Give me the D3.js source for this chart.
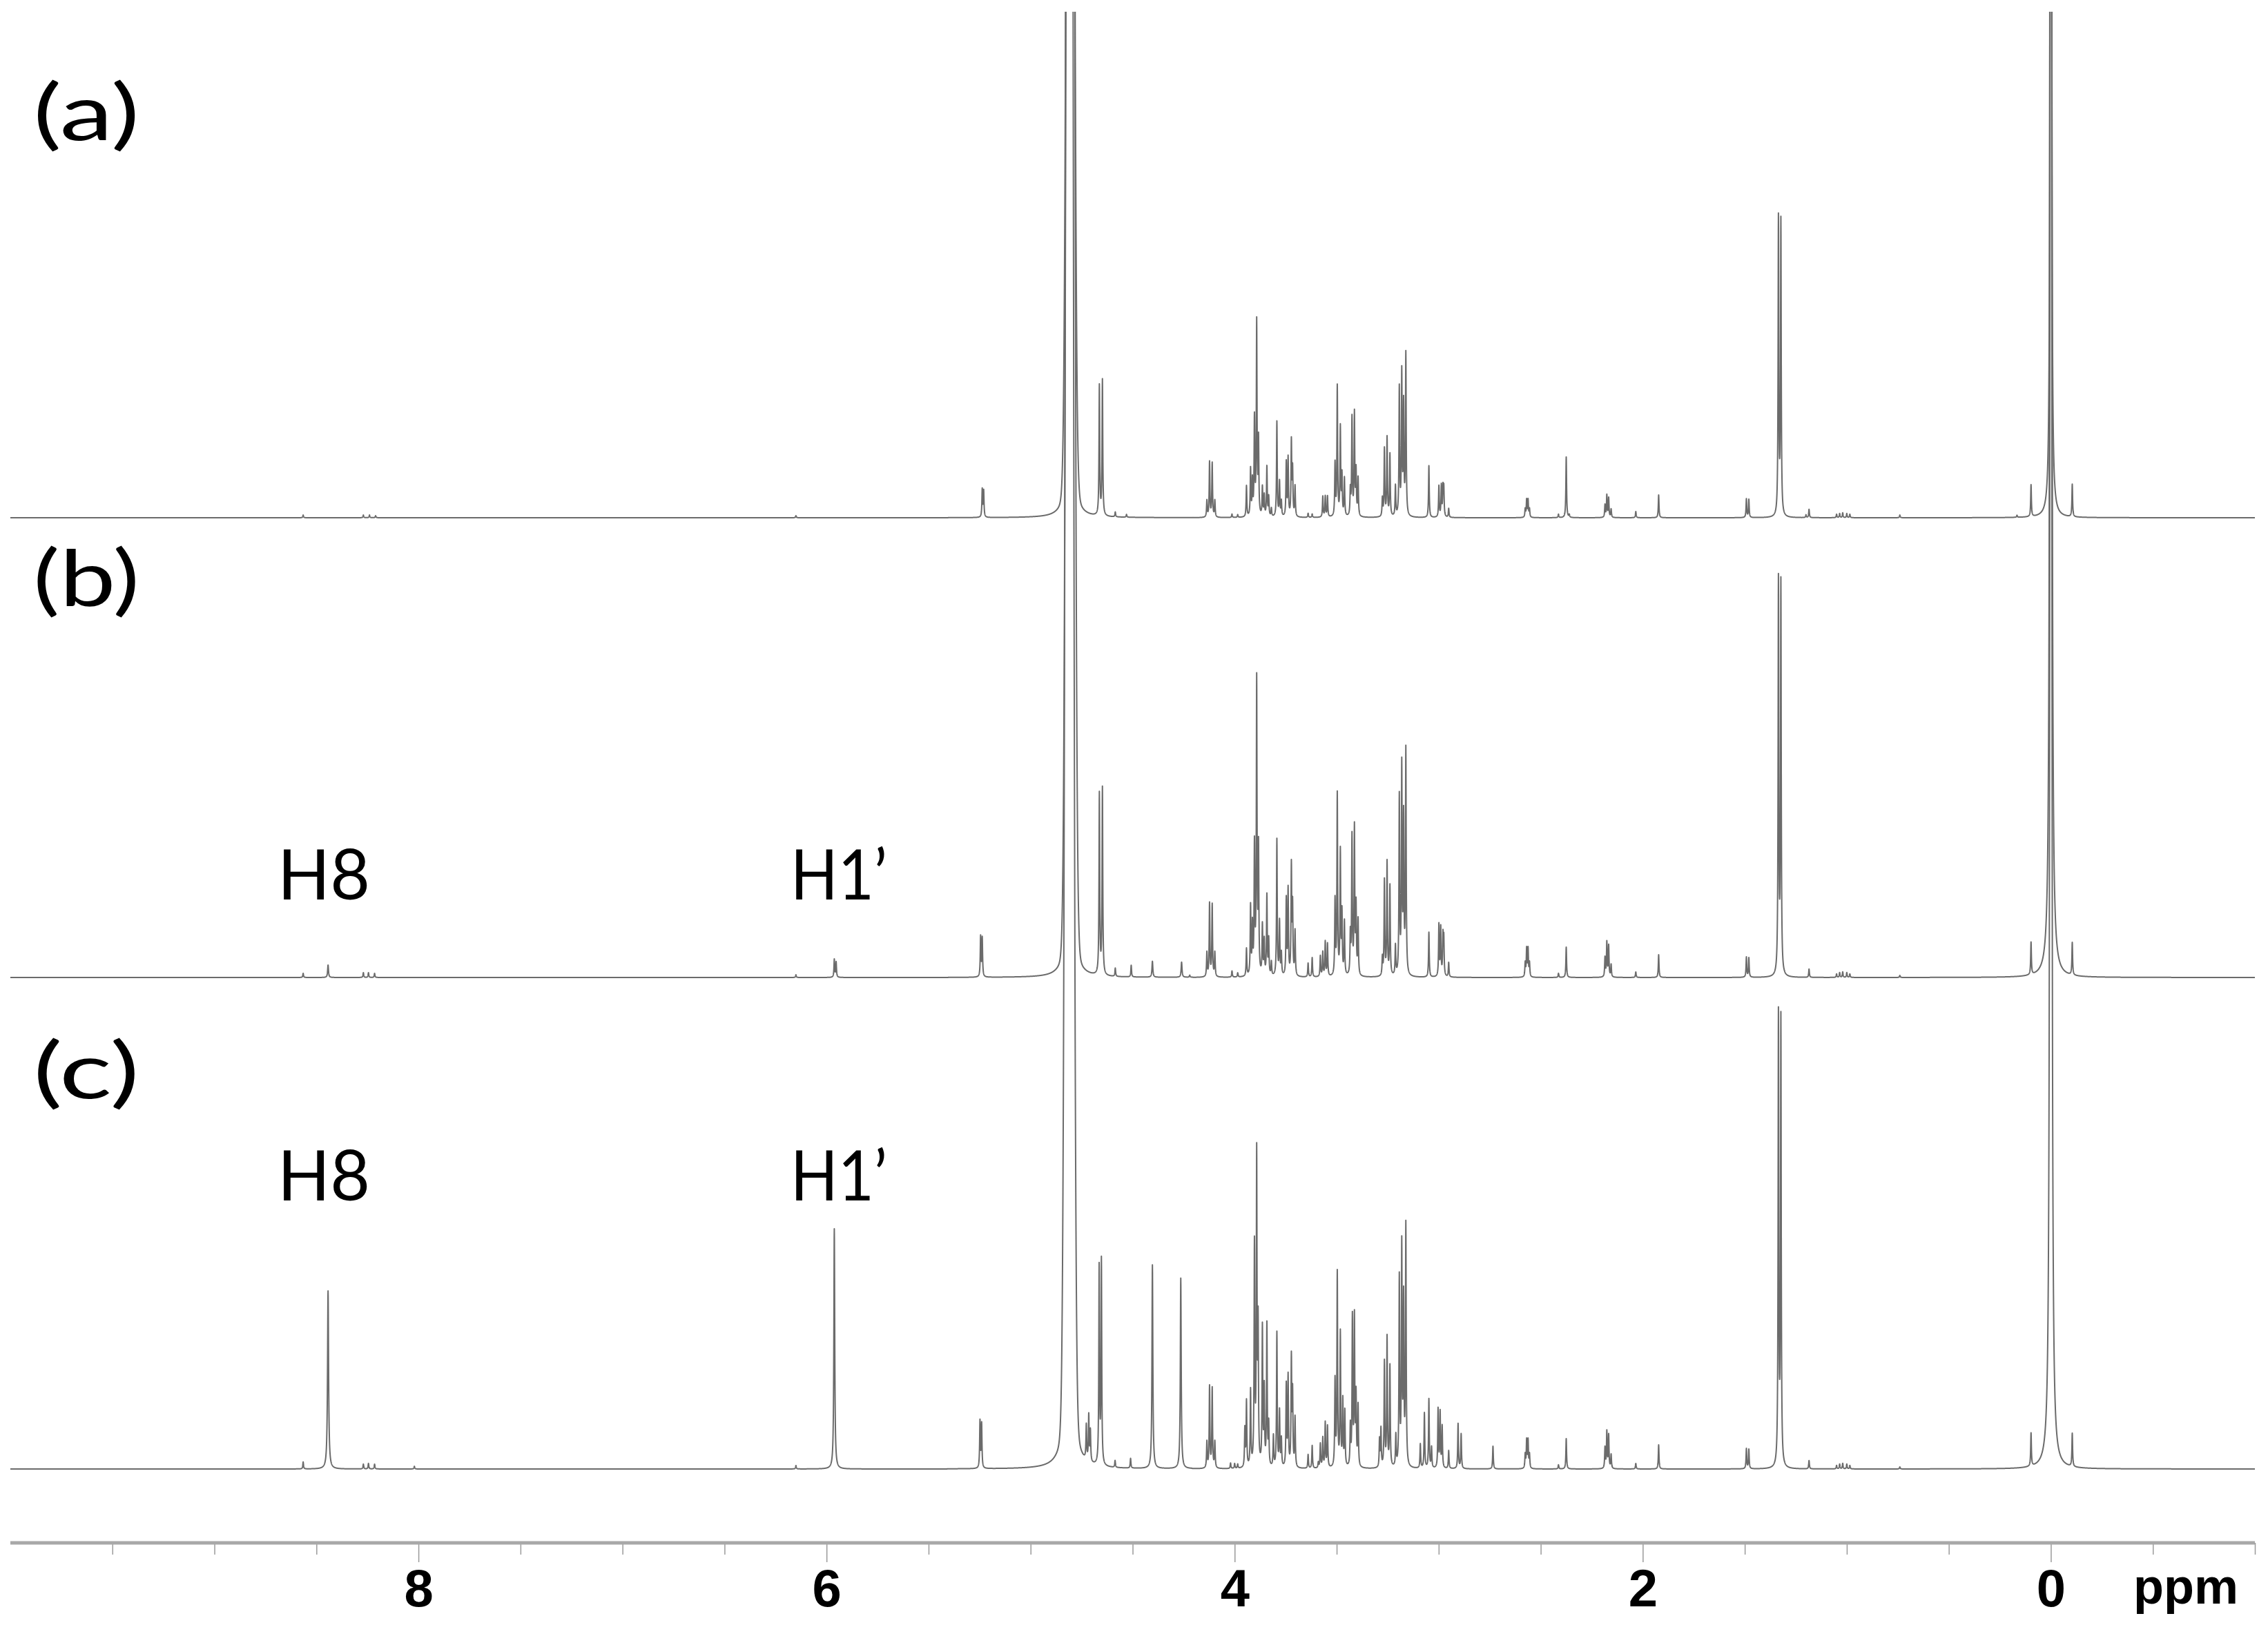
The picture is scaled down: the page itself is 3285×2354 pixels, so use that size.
<!DOCTYPE html>
<html><head><meta charset="utf-8">
<script src="https://cdn.jsdelivr.net/npm/d3@7"></script>
<style>body{margin:0;background:#fff} svg{display:block}</style>
</head><body>
<script>
// ---------- DATA (peak lists: [ppm, intensity, half-width ppm, shape]) ----------
const spectrumNames = ["(a)", "(b)", "(c)"];
const peakLabels = ["H8", "H1\u2019"];
const peakLabelPpm = [8.44, 5.96];
const majorTicks = [8, 6, 4, 2, 0];
const minorTicks = [9.5, 9, 8.5, 7.5, 7, 6.5, 5.5, 5, 4.5, 3.5, 3, 2.5, 1.5, 1, 0.5, -0.5, -1];
const axisUnit = "ppm";

const peaksA = [
 [8.565,4],[8.27,4],[8.24,4],[8.21,3],[6.15,3],
 [5.237,40],[5.230,38],
 [4.805,3000,0.0135,"g"],[4.805,190,0.017],
 [4.663,188],[4.648,196],[4.585,7],[4.53,4],
 [4.136,24],[4.123,80],[4.110,78],[4.097,24],
 [4.013,5],[3.985,4],
 [3.942,45],[3.922,68],[3.913,50],[3.903,140],[3.892,280],[3.883,108],
 [3.864,42],[3.855,30],[3.842,72],[3.833,28],[3.82,12],
 [3.793,138],[3.780,50],[3.771,22],
 [3.747,78],[3.738,84],[3.722,108],[3.716,66],[3.704,44],
 [3.64,6],[3.62,5],
 [3.568,30],[3.556,30],[3.545,30],
 [3.508,76],[3.497,188],[3.482,128],[3.474,58],[3.462,55],
 [3.433,37],[3.425,142],[3.413,148],[3.405,64],[3.395,55],
 [3.276,26],[3.266,98],[3.253,114],[3.239,90],
 [3.212,44],
 [3.193,185],[3.181,205],[3.172,158],[3.161,234],
 [3.048,75],
 [2.999,45],[2.987,45],[2.979,40],[2.975,40],[2.951,13],
 [2.576,12],[2.569,25],[2.562,25],[2.555,12],
 [2.413,5],[2.375,88],[2.36,4],
 [2.185,18],[2.176,32],[2.167,28],[2.155,12],
 [2.034,9],[1.922,33],
 [1.492,27],[1.480,26],
 [1.335,430],[1.323,425],
 [1.20,4],[1.185,12],
 [1.05,5],[1.035,6],[1.02,7],[1.00,6],[0.985,5],
 [0.74,4],[0.166,3],[0.097,46],
 [0,15000,0.0011],
 [-0.105,47]
];

const peaksB = [
 [8.565,6],[8.443,18,0.0025],[8.27,7],[8.245,7],[8.215,6],[6.15,4],
 [5.962,26],[5.953,22],
 [5.245,58],[5.237,56],
 [4.805,5000,0.0135,"g"],[4.805,220,0.017],
 [4.663,262],[4.648,270],[4.585,12],[4.507,17],[4.403,23,0.0025],[4.26,22,0.0025],[4.22,3],
 [4.136,35],[4.123,106],[4.110,104],[4.097,35],
 [4.013,9],[3.985,6],
 [3.942,40],[3.922,100],[3.913,70],[3.903,185],[3.892,425],[3.883,180],
 [3.864,72],[3.855,50],[3.842,116],[3.833,52],[3.82,20],
 [3.793,198],[3.780,78],[3.771,32],
 [3.747,110],[3.738,124],[3.722,157],[3.716,98],[3.704,65],
 [3.64,20],[3.62,28],
 [3.58,30],[3.568,35],[3.556,50],[3.545,47],
 [3.508,108],[3.497,262],[3.482,178],[3.474,88],[3.462,78],
 [3.433,58],[3.425,200],[3.413,212],[3.405,98],[3.395,80],
 [3.276,26],[3.266,138],[3.253,164],[3.239,130],
 [3.212,43],
 [3.193,257],[3.181,298],[3.172,222],[3.161,325],
 [3.048,65],
 [2.999,75],[2.990,70],[2.979,56],[2.975,52],[2.951,21],
 [2.576,20],[2.569,40],[2.562,40],[2.555,20],
 [2.413,6],[2.375,44],
 [2.185,28],[2.176,50],[2.167,45],[2.155,18],
 [2.034,8],[1.922,33],
 [1.492,29],[1.480,28],
 [1.335,570],[1.323,565],
 [1.185,12],
 [1.05,5],[1.035,7],[1.02,8],[1.00,7],[0.985,5],
 [0.74,3],[0.097,47],
 [0,15000,0.0017],
 [-0.105,47]
];

const peaksC = [
 [8.565,10],[8.443,258,0.003],[8.27,7],[8.245,8],[8.215,7],[8.02,4],[6.15,5],
 [5.962,348,0.0025],
 [5.248,68],[5.240,64],
 [4.81,5000,0.0135,"g"],[4.81,250,0.02],
 [4.727,50],[4.715,66],[4.707,45],
 [4.664,285],[4.653,295],[4.586,10],[4.51,14],
 [4.403,295,0.0025],[4.264,276,0.0025],
 [4.136,38],[4.123,118],[4.110,115],[4.097,38],
 [4.02,8],[4.00,7],[3.985,6],
 [3.950,55],[3.942,95],[3.922,110],[3.903,318],[3.892,445],[3.885,195],
 [3.864,200],[3.855,110],[3.842,205],[3.833,60],[3.81,45],
 [3.793,195],[3.780,80],[3.771,40],
 [3.747,118],[3.738,130],[3.722,156],[3.716,104],[3.704,72],
 [3.64,20],[3.62,33],[3.59,8],
 [3.58,35],[3.568,43],[3.556,65],[3.545,60],
 [3.508,124],[3.497,280],[3.482,193],[3.470,95],[3.460,80],
 [3.433,58],[3.423,215],[3.413,214],[3.405,100],[3.395,88],
 [3.29,40],[3.283,55],[3.266,152],[3.253,187],[3.239,146],
 [3.21,45],
 [3.193,272],[3.181,315],[3.172,236],[3.161,348],
 [3.09,35],[3.07,80],[3.048,100],[3.035,30],
 [3.003,85],[2.993,80],[2.983,60],[2.951,26],
 [2.905,65],[2.89,50],
 [2.734,33],
 [2.576,20],[2.569,40],[2.562,40],[2.555,20],
 [2.413,6],[2.375,44],
 [2.185,30],[2.176,53],[2.167,48],[2.155,20],
 [2.034,8],[1.922,35],
 [1.492,29],[1.480,28],
 [1.335,652],[1.323,645],
 [1.185,12],
 [1.05,5],[1.035,7],[1.02,8],[1.00,7],[0.985,5],
 [0.74,3],[0.097,48],
 [0,15000,0.0017],
 [-0.105,48]
];

const spectra = [peaksA, peaksB, peaksC];

// ---------- LAYOUT ----------
const W = 3285, H = 2354;
const plotLeft = 15, plotRight = 3266, plotTop = 17;
const baselines = [750, 1416, 2128];
const axisY = 2235;
const DEFAULT_HW = 0.002;

const svg = d3.select("body").append("svg").attr("width", W).attr("height", H);

const x = d3.scaleLinear().domain([10, -1]).range([plotLeft, plotRight]);

svg.append("defs").append("clipPath").attr("id", "clip")
  .append("rect").attr("x", plotLeft).attr("y", plotTop)
  .attr("width", plotRight - plotLeft).attr("height", H - plotTop);

// sampling grid in ppm (rendering resolution, not data)
const step = 0.0005;
const grid = d3.range(10, -1 - step / 2, -step);

function lineShape(p, ppm) {
  const hw = p[2] || DEFAULT_HW;
  const d = (ppm - p[0]) / hw;
  if (p[3] === "g") return p[1] * Math.exp(-0.5 * d * d);
  return p[1] / (1 + d * d);
}

const gSpec = svg.append("g").attr("clip-path", "url(#clip)");

spectra.forEach((peaks, i) => {
  const y = d3.scaleLinear().domain([0, 700]).range([baselines[i], baselines[i] - 700]);
  const pts = grid.map(ppm => {
    let v = 0;
    for (const p of peaks) {
      if (Math.abs(ppm - p[0]) < 0.6) v += lineShape(p, ppm);
    }
    return [ppm, Math.min(v, 3000)];
  });
  const line = d3.line().x(d => x(d[0])).y(d => y(d[1]));
  gSpec.append("path").datum(pts)
    .attr("fill", "none").attr("stroke", "#6b6b6b")
    .attr("stroke-width", 2).attr("stroke-linejoin", "round")
    .attr("d", line);
});

// spectrum labels
const labelY = [203, 878, 1591];
spectrumNames.forEach((t, i) => {
  svg.append("text").attr("x", 48).attr("y", labelY[i])
    .attr("font-family", "Lato, 'Open Sans', sans-serif").attr("font-size", 112)
    .attr("textLength", 154).attr("lengthAdjust", "spacingAndGlyphs")
    .attr("fill", "#000").text(t);
});

// peak assignment labels for (b) and (c)
const assignY = [1303, 1739];
const labelOffsets = [-74, -64];
const labelLengths = [134, 140];
assignY.forEach(yy => {
  peakLabels.forEach((t, j) => {
    svg.append("text").attr("x", x(peakLabelPpm[j]) + labelOffsets[j]).attr("y", yy)
      .attr("font-family", "Lato, 'Open Sans', sans-serif").attr("font-size", 100)
      .attr("textLength", labelLengths[j]).attr("lengthAdjust", "spacingAndGlyphs")
      .attr("fill", "#000").text(t);
  });
});

// x axis
const gAxis = svg.append("g").attr("transform", `translate(0,${axisY})`);
gAxis.append("g").call(d3.axisBottom(x).tickValues(minorTicks).tickSize(17).tickSizeOuter(0).tickFormat(""))
  .call(g => g.select(".domain").remove())
  .call(g => g.selectAll("line").attr("stroke", "#9a9a9a").attr("stroke-width", 1.5));
gAxis.append("g").call(d3.axisBottom(x).tickValues(majorTicks).tickSize(28).tickPadding(10).tickSizeOuter(0).tickFormat(d3.format("d")))
  .call(g => g.select(".domain").remove())
  .call(g => g.selectAll("line").attr("stroke", "#9a9a9a").attr("stroke-width", 1.5))
  .call(g => g.selectAll("text").attr("font-family", "'Liberation Sans', Arial, sans-serif")
      .attr("font-weight", "bold").attr("font-size", 76).attr("fill", "#000"));
gAxis.append("line").attr("x1", plotLeft).attr("x2", plotRight).attr("y1", 0).attr("y2", 0)
  .attr("stroke", "#a8a8a8").attr("stroke-width", 5);

svg.append("text").attr("x", 3090).attr("y", 2323)
  .attr("font-family", "'Liberation Sans', Arial, sans-serif").attr("font-weight", "bold")
  .attr("font-size", 72).attr("fill", "#000").text(axisUnit);
</script>
</body></html>
